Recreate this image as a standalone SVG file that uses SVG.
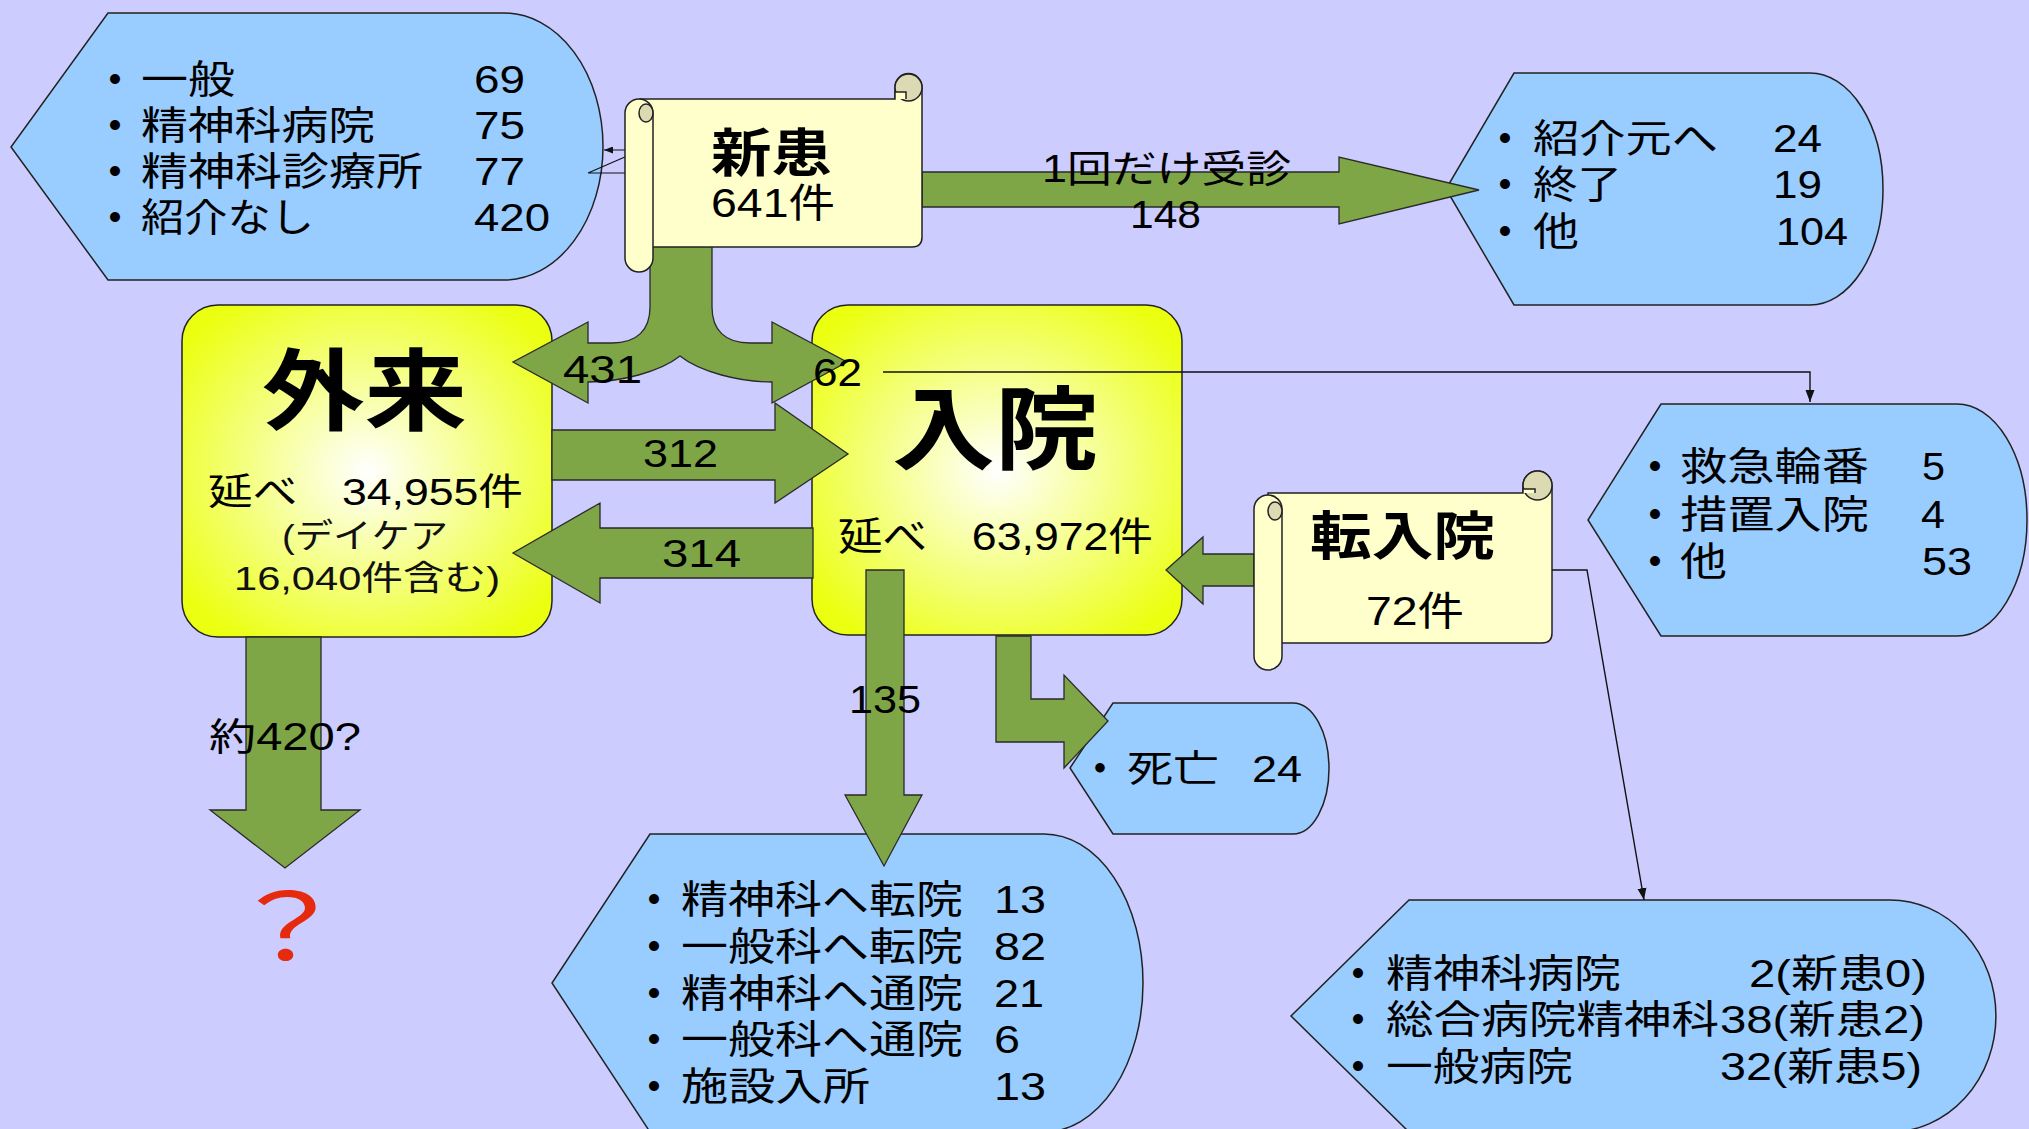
<svg xmlns="http://www.w3.org/2000/svg" width="2029" height="1129" viewBox="0 0 2029 1129">
<defs>
<style>
.blue{fill:#99CCFF;stroke:#222;stroke-width:1.5}
.green{fill:#7EA546;stroke:#2a2a2a;stroke-width:1.3}
.box{stroke:#222;stroke-width:1.5;fill:url(#yg)}
.scroll{fill:#FFFFCC;stroke:#222;stroke-width:1.5}
.shade{fill:#DCDAB2;stroke:#222;stroke-width:1.5}
.conn{fill:none;stroke:#111;stroke-width:1.4}
text{font-family:'Liberation Sans','Noto Sans CJK JP',sans-serif;fill:#000}
.li{font-size:39px}
.lab{font-size:38px}
.big{font-size:89px;font-weight:bold}
.ttl{font-size:52px;font-weight:bold}
.sub{font-size:40px}
.bul{text-anchor:middle;font-weight:bold}
.thin{font-size:34px;fill:#111}
</style>
<radialGradient id="yg" cx="0.5" cy="0.5" r="0.62">
<stop offset="0" stop-color="#FFFFFF"/>
<stop offset="1" stop-color="#EBFF10"/>
</radialGradient>
<marker id="ah" markerWidth="12" markerHeight="10" refX="12" refY="5" orient="auto" markerUnits="userSpaceOnUse">
<path d="M0,0.5 L12,5 L0,9.5 Z" fill="#111"/>
</marker>
<marker id="ahs" markerWidth="9" markerHeight="7" refX="9" refY="3.5" orient="auto" markerUnits="userSpaceOnUse">
<path d="M0,0 L9,3.5 L0,7 Z" fill="#111"/>
</marker>
</defs>
<rect x="0" y="0" width="2029" height="1129" fill="#CCCCFF"/>

<g id="referral-sources">
<path class="blue" d="M108,13 H504 A99,133.5 0 0 1 504,280 H108 L11,147 Z"/>
<text class="li bul" x="115" y="93">・</text>
<text class="li bul" x="115" y="139">・</text>
<text class="li bul" x="115" y="185">・</text>
<text class="li bul" x="115" y="231">・</text>
<text class="li" x="141" y="93" textLength="94" lengthAdjust="spacingAndGlyphs">一般</text>
<text class="li" x="474" y="93" textLength="51" lengthAdjust="spacingAndGlyphs">69</text>
<text class="li" x="141" y="139" textLength="234" lengthAdjust="spacingAndGlyphs">精神科病院</text>
<text class="li" x="474" y="139" textLength="51" lengthAdjust="spacingAndGlyphs">75</text>
<text class="li" x="141" y="185" textLength="282" lengthAdjust="spacingAndGlyphs">精神科診療所</text>
<text class="li" x="474" y="185" textLength="51" lengthAdjust="spacingAndGlyphs">77</text>
<text class="li" x="141" y="231" textLength="173" lengthAdjust="spacingAndGlyphs">紹介なし</text>
<text class="li" x="474" y="231" textLength="76" lengthAdjust="spacingAndGlyphs">420</text>
</g>

<g id="one-visit-results">
<path class="blue" d="M1514,73 H1810 A73,116 0 0 1 1810,305 H1514 L1446,189 Z"/>
<text class="li bul" x="1505" y="152">・</text>
<text class="li bul" x="1505" y="198">・</text>
<text class="li bul" x="1505" y="245">・</text>
<text class="li" x="1533" y="152" textLength="185" lengthAdjust="spacingAndGlyphs">紹介元へ</text>
<text class="li" x="1773" y="152" textLength="49" lengthAdjust="spacingAndGlyphs">24</text>
<text class="li" x="1533" y="198" textLength="89" lengthAdjust="spacingAndGlyphs">終了</text>
<text class="li" x="1773" y="198" textLength="49" lengthAdjust="spacingAndGlyphs">19</text>
<text class="li" x="1533" y="245" textLength="46" lengthAdjust="spacingAndGlyphs">他</text>
<text class="li" x="1776" y="245" textLength="72" lengthAdjust="spacingAndGlyphs">104</text>
</g>

<g id="admission-routes">
<path class="blue" d="M1661,404 H1957 A70,116 0 0 1 1957,636 H1661 L1588,520 Z"/>
<text class="li bul" x="1655" y="480">・</text>
<text class="li bul" x="1655" y="528">・</text>
<text class="li bul" x="1655" y="575">・</text>
<text class="li" x="1680" y="480" textLength="189" lengthAdjust="spacingAndGlyphs">救急輪番</text>
<text class="li" x="1922" y="480" textLength="23" lengthAdjust="spacingAndGlyphs">5</text>
<text class="li" x="1680" y="528" textLength="189" lengthAdjust="spacingAndGlyphs">措置入院</text>
<text class="li" x="1921" y="528" textLength="24" lengthAdjust="spacingAndGlyphs">4</text>
<text class="li" x="1680" y="575" textLength="47" lengthAdjust="spacingAndGlyphs">他</text>
<text class="li" x="1922" y="575" textLength="50" lengthAdjust="spacingAndGlyphs">53</text>
</g>

<g id="discharge-results">
<path class="blue" d="M650,834 H1044 A99,149 0 0 1 1044,1132 H650 L552,983 Z"/>
<text class="li bul" x="654" y="913">・</text>
<text class="li bul" x="654" y="960">・</text>
<text class="li bul" x="654" y="1007">・</text>
<text class="li bul" x="654" y="1053">・</text>
<text class="li bul" x="654" y="1100">・</text>
<text class="li" x="681" y="913" textLength="282" lengthAdjust="spacingAndGlyphs">精神科へ転院</text>
<text class="li" x="994" y="913" textLength="52" lengthAdjust="spacingAndGlyphs">13</text>
<text class="li" x="681" y="960" textLength="282" lengthAdjust="spacingAndGlyphs">一般科へ転院</text>
<text class="li" x="994" y="960" textLength="52" lengthAdjust="spacingAndGlyphs">82</text>
<text class="li" x="681" y="1007" textLength="282" lengthAdjust="spacingAndGlyphs">精神科へ通院</text>
<text class="li" x="994" y="1007" textLength="50" lengthAdjust="spacingAndGlyphs">21</text>
<text class="li" x="681" y="1053" textLength="282" lengthAdjust="spacingAndGlyphs">一般科へ通院</text>
<text class="li" x="994" y="1053" textLength="26" lengthAdjust="spacingAndGlyphs">6</text>
<text class="li" x="681" y="1100" textLength="189" lengthAdjust="spacingAndGlyphs">施設入所</text>
<text class="li" x="994" y="1100" textLength="52" lengthAdjust="spacingAndGlyphs">13</text>
</g>

<g id="death">
<path class="blue" d="M1113,703 H1293 A36,65.5 0 0 1 1293,834 H1113 L1070,768 Z"/>
<text class="bul" style="font-size:37px" x="1100" y="782">・</text>
<text style="font-size:37px" x="1127" y="782" textLength="92" lengthAdjust="spacingAndGlyphs">死亡</text>
<text style="font-size:37px" x="1252" y="782" textLength="50" lengthAdjust="spacingAndGlyphs">24</text>
</g>

<g id="transfer-sources">
<path class="blue" d="M1409,900 H1890 A106,116 0 0 1 1890,1132 H1409 L1291,1016 Z"/>
<text class="li bul" x="1358" y="987">・</text>
<text class="li bul" x="1358" y="1033">・</text>
<text class="li bul" x="1358" y="1080">・</text>
<text class="li" x="1386" y="987" textLength="235" lengthAdjust="spacingAndGlyphs">精神科病院</text>
<text class="li" x="1749" y="987" textLength="178" lengthAdjust="spacingAndGlyphs">2(新患0)</text>
<text class="li" x="1386" y="1033" textLength="333" lengthAdjust="spacingAndGlyphs">総合病院精神科</text>
<text class="li" x="1720" y="1033" textLength="205" lengthAdjust="spacingAndGlyphs">38(新患2)</text>
<text class="li" x="1386" y="1080" textLength="187" lengthAdjust="spacingAndGlyphs">一般病院</text>
<text class="li" x="1720" y="1080" textLength="202" lengthAdjust="spacingAndGlyphs">32(新患5)</text>
</g>

<g id="outpatient">
<rect class="box" x="182" y="305" width="370" height="332" rx="36"/>
<text class="big" x="262" y="423" textLength="205" lengthAdjust="spacingAndGlyphs">外来</text>
<text style="font-size:37px" x="208" y="505" textLength="315" lengthAdjust="spacingAndGlyphs">延べ　34,955件</text>
<text class="thin" x="282" y="548" textLength="166" lengthAdjust="spacingAndGlyphs">(デイケア</text>
<text class="thin" x="234" y="590" textLength="266" lengthAdjust="spacingAndGlyphs">16,040件含む)</text>
</g>

<g id="inpatient">
<rect class="box" x="812" y="305" width="370" height="330" rx="36"/>
<text class="big" style="font-size:91px" x="892" y="462" textLength="206" lengthAdjust="spacingAndGlyphs">入院</text>
<text class="li" x="838" y="550" textLength="315" lengthAdjust="spacingAndGlyphs">延べ　63,972件</text>
</g>

<g id="question">
<text transform="translate(287,960) scale(1.3,1)" text-anchor="middle" style="font-size:92px;fill:#E62A0E;font-family:'Noto Sans CJK JP',sans-serif">？</text>
</g>

<g id="connectors">
<path class="green" d="M922,172 H1339 V157 L1479,190 L1339,224 V207 H922 Z"/>
<path class="green" d="M650,240 V307 C650,330 637,343 612,343 H588 V322 L513,362 L588,403 V382 C620,382 660,372 680,356 C700,372 740,382 772,382 V403 L847,362 L772,322 V343 H750 C725,343 712,330 712,307 V240 Z"/>
<path class="green" d="M552,430 H775 V403 L848,454 L775,503 V480 H552 Z"/>
<path class="green" d="M813,528 H600 V503 L513,553 L600,603 V578 H813 Z"/>
<path class="green" d="M1254,554 H1203 V537 L1166,570 L1203,604 V586 H1254 Z"/>
<path class="green" d="M866,570 V795 H845 L884,866 L922,795 H904 V570 Z"/>
<path class="green" d="M996,636 V742 H1064 V768 L1108,721 L1064,675 V699 H1031 V636 Z"/>
<path class="green" d="M246,637 V810 H210 L285,868 L360,810 H321 V637 Z"/>
<path class="conn" d="M883,372 H1810 V402" marker-end="url(#ah)"/>
<path class="conn" d="M1552,570 H1587 L1644,900" marker-end="url(#ah)"/>
<path class="conn" style="stroke-width:1.1" d="M625,173 H588 L641,150 H604" marker-end="url(#ahs)"/>
<text class="lab" x="1042" y="182" textLength="249" lengthAdjust="spacingAndGlyphs">1回だけ受診</text>
<text class="lab" x="1130" y="228" textLength="71" lengthAdjust="spacingAndGlyphs">148</text>
<text class="lab" x="563" y="383" textLength="79" lengthAdjust="spacingAndGlyphs">431</text>
<text class="lab" x="813" y="386" textLength="49" lengthAdjust="spacingAndGlyphs">62</text>
<text class="lab" x="643" y="467" textLength="75" lengthAdjust="spacingAndGlyphs">312</text>
<text class="lab" x="662" y="567" textLength="79" lengthAdjust="spacingAndGlyphs">314</text>
<text class="lab" x="849" y="713" textLength="72" lengthAdjust="spacingAndGlyphs">135</text>
<text class="lab" x="209" y="750" textLength="152" lengthAdjust="spacingAndGlyphs">約420?</text>
</g>

<g id="new-patients">
<path class="scroll" d="M640,99 H895 V87 A13.5,13.5 0 0 1 922,87 V237 Q922,247 912,247 H640 Z"/>
<circle class="shade" cx="908.5" cy="87.5" r="13.5"/>
<path class="scroll" d="M895,99 V92 H906 V99"/>
<rect class="scroll" x="625" y="99" width="28" height="173" rx="14"/>
<ellipse class="shade" cx="646" cy="113" rx="7" ry="9"/>
<text class="ttl" x="711" y="172" textLength="121" lengthAdjust="spacingAndGlyphs">新患</text>
<text class="sub" x="711" y="217" textLength="124" lengthAdjust="spacingAndGlyphs">641件</text>
</g>

<g id="transfer-in">
<path class="scroll" d="M1268,493 H1523 V485.5 A14.5,14.5 0 0 1 1552,485.5 V633 Q1552,643 1542,643 H1268 Z"/>
<circle class="shade" cx="1537.5" cy="485.5" r="14.5"/>
<path class="scroll" d="M1523,493 V489 H1535 V493"/>
<rect class="scroll" x="1254" y="495" width="28" height="175" rx="14"/>
<ellipse class="shade" cx="1275" cy="511" rx="7" ry="9"/>
<text class="ttl" x="1310" y="555" textLength="185" lengthAdjust="spacingAndGlyphs">転入院</text>
<text class="sub" x="1366" y="625" textLength="98" lengthAdjust="spacingAndGlyphs">72件</text>
</g>
</svg>
